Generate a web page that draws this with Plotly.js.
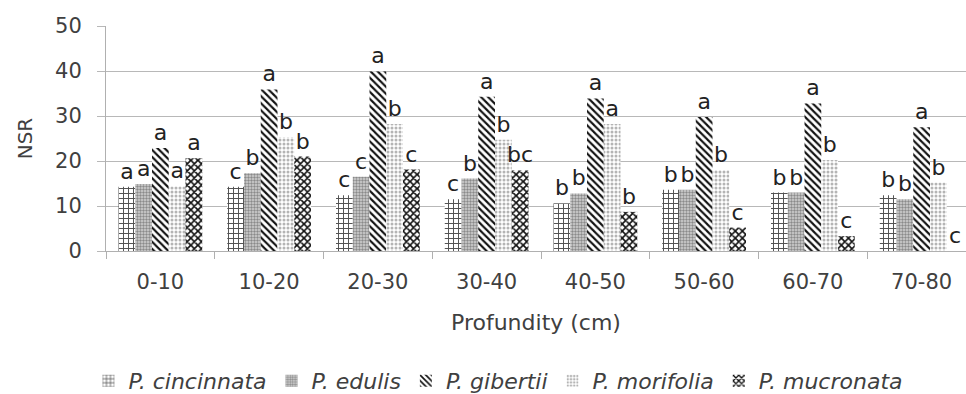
<!DOCTYPE html>
<html>
<head>
<meta charset="utf-8">
<script src="https://cdn.plot.ly/plotly-3.0.1.min.js"></script>
<style>html,body{margin:0;padding:0;background:#fff;overflow:hidden}</style>
</head>
<body>
<div id="chart" style="width:966px;height:394px"></div>
<script>
const depths = ["0-10", "10-20", "20-30", "30-40", "40-50", "50-60", "60-70", "70-80"];
const seriesNames = ["P. cincinnata", "P. edulis", "P. gibertii", "P. morifolia", "P. mucronata"];

const cincinnata = [14.3, 14.3, 12.4, 11.5, 10.6, 13.6, 13.0, 12.4];
const edulis     = [14.9, 17.3, 16.5, 16.1, 12.8, 13.6, 13.0, 11.5];
const gibertii   = [22.9, 35.9, 39.9, 34.3, 33.9, 29.8, 32.8, 27.5];
const morifolia  = [14.4, 25.3, 28.2, 24.7, 28.2, 18.0, 20.2, 15.2];
const mucronata  = [20.6, 21.0, 18.1, 17.9, 8.7, 5.2, 3.3, 0];

const lettersCincinnata = ["a", "c", "c", "c", "b", "b", "b", "b"];
const lettersEdulis     = ["a", "b", "c", "b", "b", "b", "b", "b"];
const lettersGibertii   = ["a", "a", "a", "a", "a", "a", "a", "a"];
const lettersMorifolia  = ["a", "b", "b", "b", "a", "b", "b", "b"];
const lettersMucronata  = ["a", "b", "c", "bc", "b", "c", "c", "c"];

const values = [cincinnata, edulis, gibertii, morifolia, mucronata];
const letters = [lettersCincinnata, lettersEdulis, lettersGibertii, lettersMorifolia, lettersMucronata];

const patterns = [
  {shape: "+", fgcolor: "#505050", bgcolor: "#ffffff", size: 5, solidity: 0.35},
  {shape: ".", fgcolor: "#8a8a8a", bgcolor: "#d4d4d4", size: 3, solidity: 0.5},
  {shape: "\\", fgcolor: "#111111", bgcolor: "#ffffff", size: 5, solidity: 0.42},
  {shape: ".", fgcolor: "#b4b4b4", bgcolor: "#ffffff", size: 4, solidity: 0.45},
  {shape: "x", fgcolor: "#111111", bgcolor: "#ffffff", size: 5, solidity: 0.55}
];
const baseColors = ["#ffffff", "#d4d4d4", "#ffffff", "#ffffff", "#ffffff"];

const FONT = "DejaVu Sans, Century Gothic, sans-serif";

const traces = seriesNames.map((n, i) => ({
  type: "bar",
  name: n,
  x: depths,
  y: values[i],
  text: letters[i],
  textposition: "outside",
  constraintext: "none",
  cliponaxis: false,
  textfont: {family: FONT, size: 22, color: "#222222"},
  marker: {color: baseColors[i], line: {width: 0}, pattern: patterns[i]},
  hoverinfo: "x+y+name"
}));

const layout = {
  width: 966,
  height: 394,
  margin: {l: 106, r: 0, t: 26, b: 143},
  paper_bgcolor: "#ffffff",
  plot_bgcolor: "#ffffff",
  font: {family: FONT, color: "#404040"},
  barmode: "group",
  bargap: 0.23,
  bargroupgap: 0,
  showlegend: true,
  legend: {
    orientation: "h",
    xref: "container", yref: "container",
    x: 0.516, xanchor: "center",
    y: 0.033, yanchor: "middle",
    font: {family: FONT, size: 22, color: "#404040", style: "italic"},
    itemwidth: 30
  },
  xaxis: {
    type: "category",
    range: [-0.5, 7.408],
    showgrid: false,
    showline: true,
    linecolor: "#b0b0b0",
    linewidth: 1,
    ticks: "outside",
    tickson: "boundaries",
    ticklen: 7,
    tickcolor: "#b0b0b0",
    ticklabelstandoff: 12,
    tickfont: {family: FONT, size: 21, color: "#404040"},
    title: {text: "Profundity (cm)", font: {family: FONT, size: 22, color: "#404040"}, standoff: 21},
    automargin: false
  },
  yaxis: {
    range: [0, 50],
    dtick: 10,
    showgrid: true,
    gridcolor: "#b8b8b8",
    gridwidth: 1,
    zeroline: false,
    showline: true,
    linecolor: "#b0b0b0",
    ticks: "outside",
    ticklen: 8,
    tickcolor: "#b8b8b8",
    ticklabelstandoff: 11,
    tickfont: {family: FONT, size: 21, color: "#404040"},
    title: {text: "NSR", font: {family: FONT, size: 20, color: "#404040"}, standoff: 17},
    automargin: false
  }
};

Plotly.newPlot("chart", traces, layout, {displayModeBar: false, staticPlot: true});
</script>
</body>
</html>
